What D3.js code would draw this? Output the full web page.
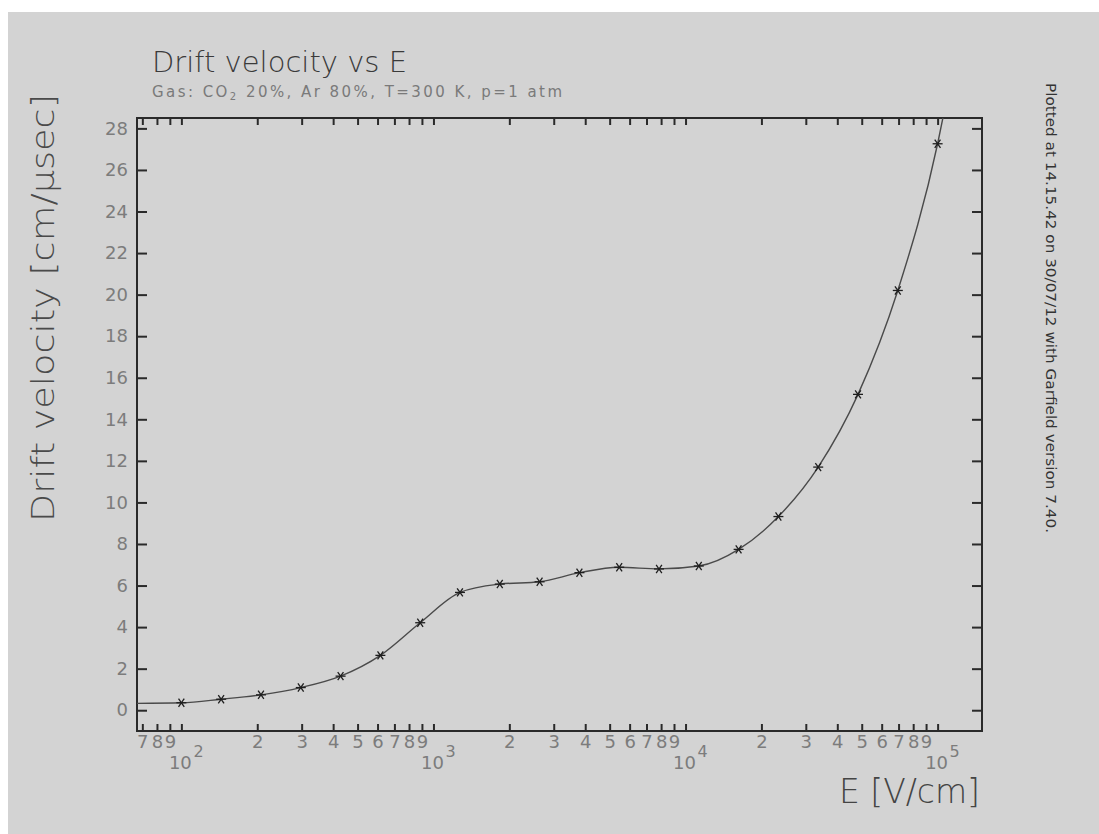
<!DOCTYPE html>
<html>
<head>
<meta charset="utf-8">
<script src="https://cdn.jsdelivr.net/npm/d3@7"></script>
<style>
  html, body { margin: 0; padding: 0; background: #ffffff; }
  svg { display: block; }
  text { font-family: "DejaVu Sans", "Liberation Sans", sans-serif; }
</style>
</head>
<body>
<svg id="chart" width="1099" height="834"></svg>
<script>
// ---- data ----
const E_VALUES = [100, 143.8, 206.9, 297.6, 428.1, 615.8, 885.9, 1274, 1833, 2637,
                  3793, 5456, 7848, 11288, 16238, 23357, 33598, 48329, 69519, 100000];
const V_VALUES = [0.36, 0.53, 0.74, 1.09, 1.64, 2.64, 4.21, 5.67, 6.07, 6.18,
                  6.62, 6.88, 6.80, 6.94, 7.74, 9.32, 11.7, 15.2, 20.2, 27.26];
// fitted curve continues past the measured points to the frame edges
const CURVE_HEAD = [[66.67, 0.33]];
const CURVE_TAIL = [[107000, 29.0]];

const X_DOMAIN = [66.67, 150000];
const Y_DOMAIN = [-1.0, 28.5];
const Y_TICKS = [0, 2, 4, 6, 8, 10, 12, 14, 16, 18, 20, 22, 24, 26, 28];
const X_TICKS = [70, 80, 90,
  100, 200, 300, 400, 500, 600, 700, 800, 900,
  1000, 2000, 3000, 4000, 5000, 6000, 7000, 8000, 9000,
  10000, 20000, 30000, 40000, 50000, 60000, 70000, 80000, 90000, 100000];
const DECADES = [100, 1000, 10000, 100000];
const DECADE_EXPONENTS = ["2", "3", "4", "5"];

const TITLE = "Drift velocity vs E";
const SUBTITLE_PARTS = ["Gas: CO", "2", " 20%, Ar 80%, T=300 K, p=1 atm"];
const Y_LABEL = "Drift velocity [cm/\u03bcsec]";
const X_LABEL = "E [V/cm]";
const SIDE_NOTE = "Plotted at 14.15.42 on 30/07/12 with Garfield version 7.40.";

// ---- layout ----
const svg = d3.select("#chart");
const L = 137, R = 982, T = 118, B = 731;

svg.append("rect").attr("x", 8).attr("y", 12).attr("width", 1091).attr("height", 822)
  .attr("fill", "#d3d3d3");

const x = d3.scaleLog().domain(X_DOMAIN).range([L, R]);
const y = d3.scaleLinear().domain(Y_DOMAIN).range([B, T]);

const labelColor = "#7c7c7c";

// axes
const decadeSet = new Set(DECADES);
const fmtDigit = d => decadeSet.has(d) ? "" : String(Math.round(d / Math.pow(10, Math.floor(Math.log10(d) + 1e-9))));

const gB = svg.append("g").attr("transform", `translate(0,${B})`)
  .call(d3.axisBottom(x).tickValues(X_TICKS).tickSize(-7).tickSizeOuter(0).tickPadding(4).tickFormat(fmtDigit));
const gT = svg.append("g").attr("transform", `translate(0,${T})`)
  .call(d3.axisTop(x).tickValues(X_TICKS).tickSize(-7).tickSizeOuter(0).tickFormat(""));
const gL = svg.append("g").attr("transform", `translate(${L},0)`)
  .call(d3.axisLeft(y).tickValues(Y_TICKS).tickSize(-10).tickSizeOuter(0).tickPadding(9));
const gR = svg.append("g").attr("transform", `translate(${R},0)`)
  .call(d3.axisRight(y).tickValues(Y_TICKS).tickSize(-10).tickSizeOuter(0).tickFormat(""));

[gB, gT, gL, gR].forEach(g => {
  g.select(".domain").remove();
  g.selectAll(".tick line").attr("stroke", "#2a2a2a").attr("stroke-width", 2);
  g.selectAll(".tick text").attr("fill", labelColor).attr("font-size", 18)
    .attr("font-family", "DejaVu Sans, sans-serif");
});

// decade labels 10^n
const dec = svg.append("g");
DECADES.forEach((d, i) => {
  dec.append("text").attr("x", x(d) - 1).attr("y", 769).attr("text-anchor", "middle")
    .attr("font-size", 18).attr("fill", labelColor).text("10");
  dec.append("text").attr("x", x(d) + 12).attr("y", 757)
    .attr("font-size", 16).attr("fill", labelColor).text(DECADE_EXPONENTS[i]);
});

// frame
svg.append("rect").attr("x", L).attr("y", T).attr("width", R - L).attr("height", B - T)
  .attr("fill", "none").attr("stroke", "#2a2a2a").attr("stroke-width", 2);

// curve
const pts = E_VALUES.map((e, i) => [e, V_VALUES[i]]);
const curvePts = CURVE_HEAD.concat(pts, CURVE_TAIL);
svg.append("clipPath").attr("id", "clip").append("rect")
  .attr("x", L).attr("y", T).attr("width", R - L).attr("height", B - T);
const line = d3.line().x(d => x(d[0])).y(d => y(d[1])).curve(d3.curveMonotoneX);
svg.append("path").datum(curvePts).attr("clip-path", "url(#clip)")
  .attr("d", line).attr("fill", "none").attr("stroke", "#4a4a4a").attr("stroke-width", 1.4);

// asterisk markers
const arm = 5;
const mk = svg.append("g").attr("stroke", "#1e1e1e").attr("stroke-width", 1.3);
pts.forEach(p => {
  const cx = x(p[0]), cy = y(p[1]);
  const g = mk.append("g").attr("transform", `translate(${cx},${cy})`);
  [0, 55, 125].forEach(a => {
    const r = a * Math.PI / 180;
    g.append("line").attr("x1", -arm * Math.cos(r)).attr("y1", -arm * Math.sin(r))
      .attr("x2", arm * Math.cos(r)).attr("y2", arm * Math.sin(r));
  });
});

// titles
svg.append("text").attr("x", 152).attr("y", 72).attr("font-size", 29)
  .attr("font-weight", 200).attr("fill", "#3a3a3a").text(TITLE);
const sub = svg.append("text").attr("x", 152).attr("y", 97).attr("font-size", 15)
  .attr("fill", "#7a7a7a").attr("textLength", 410).attr("lengthAdjust", "spacing");
sub.append("tspan").text(SUBTITLE_PARTS[0]);
sub.append("tspan").attr("font-size", 10).attr("dy", 3).text(SUBTITLE_PARTS[1]);
sub.append("tspan").attr("dy", -3).text(SUBTITLE_PARTS[2]);

svg.append("text").attr("transform", "translate(54,308) rotate(-90)")
  .attr("text-anchor", "middle").attr("font-size", 32).attr("font-weight", 200)
  .attr("fill", "#4a4a4a").attr("textLength", 428).attr("lengthAdjust", "spacingAndGlyphs")
  .text(Y_LABEL);

svg.append("text").attr("x", 980).attr("y", 803).attr("text-anchor", "end")
  .attr("font-size", 33).attr("font-weight", 200).attr("fill", "#444").text(X_LABEL);

svg.append("text").attr("transform", "translate(1046,83) rotate(90)")
  .attr("font-size", 14).attr("fill", "#333")
  .attr("font-family", "Liberation Sans Narrow, Liberation Sans, sans-serif")
  .attr("textLength", 450).attr("lengthAdjust", "spacingAndGlyphs")
  .text(SIDE_NOTE);
</script>
</body>
</html>
